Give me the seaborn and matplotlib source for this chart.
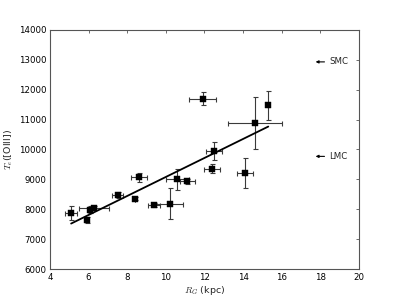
import matplotlib
matplotlib.use("Agg")
import matplotlib.pyplot as plt
import seaborn as sns
import numpy as np
import pandas as pd

# galactocentric distance (kpc) and electron temperature T_e([OIII]) (K)
r_g = [5.1, 5.9, 6.1, 6.3, 7.5, 8.4, 8.6, 9.4, 10.2, 10.6, 11.1, 12.4, 12.5, 11.9, 14.6, 15.3, 14.1]
t_e = [7880, 7630, 7990, 8040, 8470, 8345, 9075, 8155, 8190, 9010, 8935, 9355, 9955, 11700, 10880, 11480, 9210]
r_err = [0.3, 0.0, 0.1, 0.78, 0.3, 0.0, 0.42, 0.3, 0.7, 0.6, 0.39, 0.4, 0.43, 0.69, 1.4, 0.0, 0.41]
t_err = [240, 100, 130, 60, 100, 50, 155, 70, 510, 350, 80, 150, 300, 210, 880, 480, 490]

# linear fit shown in the figure
fit_r = [5.1, 15.3]
fit_t = [7523, 10767]

# reference values for the Magellanic Clouds
clouds = ["SMC", "LMC"]
cloud_t = [12930, 9770]

df = pd.DataFrame({"r": r_g, "t": t_e})
fit = pd.DataFrame({"r": fit_r, "t": fit_t})

sns.set_style("white")
plt.rcParams.update({
    "font.family": ["DejaVu Sans"],
    "font.size": 6,
    "axes.edgecolor": "#555555",
    "axes.linewidth": 0.8,
    "mathtext.fontset": "cm",
})

fig, ax = plt.subplots(figsize=(3.99, 2.99), dpi=100)
fig.subplots_adjust(left=0.125, right=0.9, bottom=0.1, top=0.9)

ax.errorbar(r_g, t_e, xerr=r_err, yerr=t_err, fmt="none",
            ecolor="#3a3a3a", elinewidth=0.8, capsize=1.8, capthick=0.8, zorder=2)
sns.scatterplot(data=df, x="r", y="t", ax=ax, color="black", marker="s",
                s=13, edgecolor="black", linewidth=0.3, zorder=3)
sns.lineplot(data=fit, x="r", y="t", ax=ax, color="black", linewidth=1.3, zorder=4)

for name, t in zip(clouds, cloud_t):
    ax.annotate(name, xy=(17.75, t), xytext=(18.45, t), va="center", ha="left",
                fontsize=6.2,
                arrowprops=dict(arrowstyle="-|>", color="black", lw=0.8,
                                mutation_scale=4, shrinkA=1, shrinkB=0))

ax.set_xlim(4, 20)
ax.set_ylim(6000, 14000)
ax.set_xticks(np.arange(4, 21, 2))
ax.set_yticks(np.arange(6000, 14001, 1000))
ax.tick_params(direction="in", top=True, right=True, length=2.5, width=0.6,
               pad=2.5, labelsize=6.2, colors="black", color="#555555")
ax.set_xlabel(r"$R_G$ (kpc)", fontsize=6.8, labelpad=2)
ax.set_ylabel(r"$T_e$([OIII])", fontsize=6.8, labelpad=3)

fig.savefig("out.png", dpi=100)
